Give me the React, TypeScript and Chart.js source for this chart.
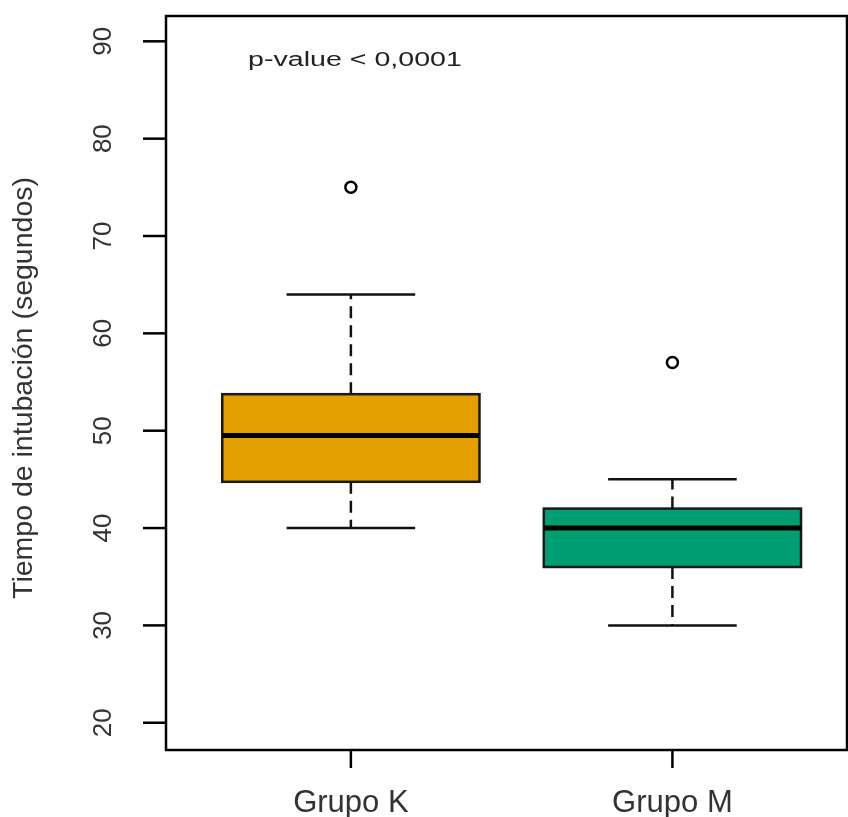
import React, { useEffect, useRef } from "react";
import { Chart, registerables } from "chart.js";

Chart.register(...registerables);

const categories = ["Grupo K", "Grupo M"];
const lowerWhisker = [40, 30];
const q1 = [44.75, 36];
const median = [49.5, 40];
const q3 = [53.75, 42];
const upperWhisker = [64, 45];
const outliers = [[75], [57]];
const boxColors = ["#E69F00", "#009E73"];
const yTicks = [20, 30, 40, 50, 60, 70, 80, 90];
const yTitle = "Tiempo de intubación (segundos)";
const annotation = "p-value < 0,0001";

const FONT = '"Liberation Sans", Arial, sans-serif';

const boxPlugin = {
  id: "boxPlugin",
  beforeDatasetsDraw(chart: any) {
    const ctx = chart.ctx;
    const xs = chart.scales.x;
    const ys = chart.scales.y;
    ctx.save();
    categories.forEach((_, i) => {
      const c = xs.getPixelForValue(i + 1);
      const bl = xs.getPixelForValue(i + 1 - 0.4);
      const br = xs.getPixelForValue(i + 1 + 0.4);
      const cl = xs.getPixelForValue(i + 1 - 0.2);
      const cr = xs.getPixelForValue(i + 1 + 0.2);
      const yQ1 = ys.getPixelForValue(q1[i]);
      const yQ3 = ys.getPixelForValue(q3[i]);
      const yMed = ys.getPixelForValue(median[i]);
      const yLo = ys.getPixelForValue(lowerWhisker[i]);
      const yHi = ys.getPixelForValue(upperWhisker[i]);
      ctx.strokeStyle = "#111";
      ctx.lineWidth = 2.5;
      ctx.setLineDash([12, 7]);
      ctx.beginPath();
      ctx.moveTo(c, yQ3);
      ctx.lineTo(c, yHi);
      ctx.moveTo(c, yQ1);
      ctx.lineTo(c, yLo);
      ctx.stroke();
      ctx.setLineDash([]);
      ctx.beginPath();
      ctx.moveTo(cl, yHi);
      ctx.lineTo(cr, yHi);
      ctx.moveTo(cl, yLo);
      ctx.lineTo(cr, yLo);
      ctx.stroke();
      ctx.fillStyle = boxColors[i];
      ctx.fillRect(bl, yQ3, br - bl, yQ1 - yQ3);
      ctx.lineWidth = 2.5;
      ctx.strokeStyle = "#1a1a1a";
      ctx.strokeRect(bl, yQ3, br - bl, yQ1 - yQ3);
      ctx.lineWidth = 5;
      ctx.strokeStyle = "#000";
      ctx.beginPath();
      ctx.moveTo(bl, yMed);
      ctx.lineTo(br, yMed);
      ctx.stroke();
    });
    ctx.restore();
  },
  afterDraw(chart: any) {
    const ctx = chart.ctx;
    const xs = chart.scales.x;
    const ys = chart.scales.y;
    const a = chart.chartArea;
    ctx.save();
    ctx.strokeStyle = "#000";
    ctx.lineWidth = 2.5;
    ctx.setLineDash([]);
    ctx.strokeRect(a.left, a.top, a.right - a.left, a.bottom - a.top);
    ctx.fillStyle = "#333";
    ctx.font = `26px ${FONT}`;
    yTicks.forEach((t) => {
      const y = ys.getPixelForValue(t);
      ctx.beginPath();
      ctx.moveTo(a.left - 23, y);
      ctx.lineTo(a.left, y);
      ctx.stroke();
      ctx.save();
      ctx.translate(111, y);
      ctx.rotate(-Math.PI / 2);
      ctx.textAlign = "center";
      ctx.textBaseline = "alphabetic";
      ctx.fillText(String(t), 0, 0);
      ctx.restore();
    });
    ctx.font = `31px ${FONT}`;
    categories.forEach((lab, i) => {
      const x = xs.getPixelForValue(i + 1);
      ctx.beginPath();
      ctx.moveTo(x, a.bottom);
      ctx.lineTo(x, a.bottom + 18);
      ctx.stroke();
      ctx.textAlign = "center";
      ctx.textBaseline = "alphabetic";
      ctx.fillText(lab, x, 812);
    });
    ctx.font = `28.5px ${FONT}`;
    ctx.save();
    ctx.translate(32, (a.top + a.bottom) / 2 + 5);
    ctx.rotate(-Math.PI / 2);
    ctx.textAlign = "center";
    ctx.textBaseline = "alphabetic";
    ctx.fillText(yTitle, 0, 0);
    ctx.restore();
    ctx.save();
    ctx.font = `20px ${FONT}`;
    ctx.translate(248, 66);
    ctx.scale(1.43, 1);
    ctx.textAlign = "left";
    ctx.textBaseline = "alphabetic";
    ctx.fillStyle = "#222";
    ctx.fillText(annotation, 0, 0);
    ctx.restore();
    ctx.restore();
  },
};

export default function App() {
  const ref = useRef<HTMLCanvasElement>(null);
  useEffect(() => {
    document.body.style.margin = "0";
    document.body.style.overflow = "hidden";
    const outlierPoints: { x: number; y: number }[] = [];
    outliers.forEach((arr, i) => arr.forEach((v) => outlierPoints.push({ x: i + 1, y: v })));
    const chart = new Chart(ref.current as HTMLCanvasElement, {
      type: "scatter",
      data: {
        datasets: [
          {
            data: outlierPoints,
            pointRadius: 5.5,
            pointBorderWidth: 2.5,
            pointBackgroundColor: "#fff",
            pointBorderColor: "#000",
            pointStyle: "circle",
          },
        ],
      },
      options: {
        animation: false,
        responsive: false,
        events: [],
        layout: { autoPadding: false, padding: { left: 166, top: 16, right: 1, bottom: 67 } },
        plugins: { legend: { display: false }, tooltip: { enabled: false } },
        scales: {
          x: { type: "linear", min: 0.425, max: 2.543, display: false },
          y: { type: "linear", min: 17.2, max: 92.6, display: false },
        },
      },
      plugins: [boxPlugin],
    });
    return () => chart.destroy();
  }, []);
  return (
    <div style={{ position: "absolute", left: 0, top: 0, width: 848, height: 817, background: "#fff", overflow: "hidden" }}>
      <canvas ref={ref} width={848} height={817} style={{ display: "block", width: 848, height: 817 }} />
    </div>
  );
}
